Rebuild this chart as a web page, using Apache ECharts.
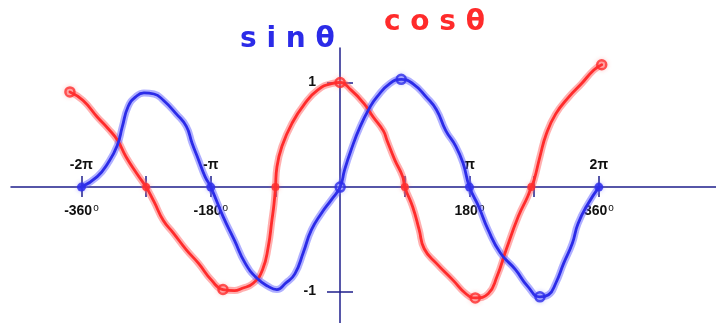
<!DOCTYPE html>
<html>
<head>
<meta charset="utf-8">
<script src="https://cdn.jsdelivr.net/npm/echarts@6/dist/echarts.min.js"></script>
<style>
  html, body { margin: 0; padding: 0; background: #fff; }
  #chart { width: 716px; height: 323px; }
</style>
</head>
<body>
<div id="chart"></div>
<script>
// hand-drawn sketch, values (degrees, value)
const sinPts = [
  [-360, 0], [-338, 0.10], [-323, 0.23], [-310, 0.40], [-303, 0.58], [-295, 0.77],
  [-285, 0.86], [-273, 0.90], [-259, 0.89], [-246, 0.83], [-228, 0.70], [-214, 0.58],
  [-206, 0.42], [-197, 0.26], [-188, 0.10], [-180, 0], [-163, -0.28], [-147, -0.51],
  [-132, -0.73], [-116, -0.87], [-100, -0.95], [-88, -0.98], [-76, -0.92], [-63, -0.83],
  [-51, -0.62], [-40, -0.41], [-26, -0.25], [-12, -0.12], [0, 0], [6, 0.16], [15, 0.35],
  [28, 0.58], [42, 0.77], [51, 0.86], [69, 0.99], [85, 1.03], [101, 0.99], [120, 0.86],
  [134, 0.74], [147, 0.54], [161, 0.39], [171, 0.23], [180, 0], [193, -0.19], [206, -0.41],
  [223, -0.63], [244, -0.79], [261, -0.95], [278, -1.05], [290, -1.03], [300, -0.92],
  [311, -0.73], [323, -0.54], [331, -0.35], [345, -0.16], [360, 0]
];
const cosPts = [
  [-376, 0.91], [-358, 0.83], [-338, 0.67], [-323, 0.56], [-310, 0.45], [-298, 0.29],
  [-283, 0.13], [-270, 0], [-259, -0.14], [-246, -0.32], [-232, -0.44], [-214, -0.60],
  [-197, -0.73], [-179, -0.89], [-163, -0.98], [-147, -0.99], [-137, -0.97], [-121, -0.92],
  [-108, -0.79], [-100, -0.57], [-95, -0.32], [-92, -0.16], [-90, 0], [-88, 0.19],
  [-81, 0.39], [-67, 0.61], [-49, 0.80], [-31, 0.93], [-12, 0.99], [0, 1.00], [15, 0.93],
  [33, 0.80], [46, 0.67], [60, 0.54], [65, 0.45], [76, 0.26], [87, 0.10], [90, 0],
  [101, -0.19], [110, -0.41], [117, -0.59], [134, -0.73], [157, -0.89], [175, -1.02],
  [188, -1.06], [206, -1.02], [218, -0.86], [231, -0.60], [248, -0.28], [261, -0.09],
  [266, 0], [270, 0.07], [278, 0.29], [287, 0.51], [300, 0.70], [318, 0.86], [336, 0.99],
  [353, 1.12], [364, 1.17]
];
// dots and little loops the pen left on the curves
const sinDots = [[-360, 0], [-180, 0], [180, 0], [360, 0]];
const sinRings = [[0, 0], [85, 1.03], [278, -1.05]];
const cosDots = [[-270, 0], [-90, 0], [90, 0], [266, 0]];
const cosRings = [[-376, 0.91], [0, 1.00], [-163, -0.98], [188, -1.06], [364, 1.17]];

const tickValues = [-360, -270, -180, -90, 90, 180, 270, 360];
const labelValues = [-360, -180, 180, 360];
const degLabels = ['-360', '-180', '180', '360'];
const piLabels = ['-2π', '-π', 'π', '2π'];
const yTicks = [-1, 1];
const yLabels = ['-1', '1'];

const axisColor = '#1f1f8c';
const blue = '#2b2be8', blueHalo = 'rgba(95,95,255,0.5)';
const red = '#ff2b2b', redHalo = 'rgba(255,95,95,0.5)';
const labelFont = { fontFamily: 'Liberation Sans', fontWeight: 'bold', fontSize: 14, color: '#111' };

// axes sit on the zero lines: x zero is 329px right of the grid edge, y zero 136px above the bottom
const xZeroOffset = -136;
const yZeroOffset = -329;

let myChart = echarts.init(document.getElementById('chart'));

function curve(data, color, width) {
  return {
    type: 'line',
    data: data,
    smooth: 0.5,
    showSymbol: false,
    silent: true,
    lineStyle: { color: color, width: width, cap: 'round', join: 'round' },
    z: width > 4 ? 2 : 3
  };
}

function marks(data, color, halo, size, ring) {
  return {
    type: 'scatter',
    data: data,
    symbolSize: size,
    silent: true,
    itemStyle: ring
      ? { color: 'transparent', borderColor: color, borderWidth: 2.5, shadowColor: halo, shadowBlur: 4 }
      : { color: color, shadowColor: halo, shadowBlur: 4 },
    z: 4
  };
}

let option = {
  animation: false,
  grid: { left: 11, right: 0, top: 48, bottom: 0, outerBoundsMode: 'none', containLabel: false },
  xAxis: [
    {
      type: 'value', min: -458, max: 523, position: 'bottom', offset: xZeroOffset,
      splitLine: { show: false },
      axisLine: { onZero: false, lineStyle: { color: axisColor, width: 1.5 } },
      axisTick: { customValues: tickValues, length: 10, lineStyle: { color: axisColor, width: 1.5 } },
      axisLabel: {
        customValues: labelValues, margin: 16,
        formatter: v => '{n|' + degLabels[labelValues.indexOf(v)] + '}{o|o}',
        rich: {
          n: labelFont,
          o: { fontFamily: 'Liberation Sans', fontSize: 10, color: '#111', padding: [0, 0, 7, 1] }
        }
      }
    },
    {
      type: 'value', min: -458, max: 523, position: 'bottom', offset: xZeroOffset,
      splitLine: { show: false },
      axisLine: { show: false, onZero: false },
      axisTick: { customValues: tickValues, inside: true, length: 11, lineStyle: { color: axisColor, width: 1.5 } },
      axisLabel: Object.assign({
        customValues: labelValues, inside: true, margin: 15,
        formatter: v => piLabels[labelValues.indexOf(v)]
      }, labelFont)
    }
  ],
  yAxis: [
    {
      type: 'value', min: -1.3, max: 1.33, position: 'left', offset: yZeroOffset,
      splitLine: { show: false },
      axisLine: { onZero: false, lineStyle: { color: axisColor, width: 1.5 } },
      axisTick: { customValues: yTicks, length: 13, lineStyle: { color: axisColor, width: 1.5 } },
      axisLabel: Object.assign({
        customValues: yTicks, margin: 24,
        formatter: v => yLabels[yTicks.indexOf(v)]
      }, labelFont)
    },
    {
      type: 'value', min: -1.3, max: 1.33, position: 'left', offset: yZeroOffset,
      splitLine: { show: false },
      axisLine: { show: false, onZero: false },
      axisTick: { customValues: yTicks, inside: true, length: 13, lineStyle: { color: axisColor, width: 1.5 } },
      axisLabel: { show: false }
    }
  ],
  graphic: [
    { type: 'text', left: 240, top: 26,
      style: { text: 's i n θ', fill: blue, font: 'bold 28px "DejaVu Sans"' } },
    { type: 'text', left: 384, top: 9,
      style: { text: 'c o s θ', fill: red, font: 'bold 28px "DejaVu Sans"' } }
  ],
  series: [
    curve(cosPts, redHalo, 7),
    curve(sinPts, blueHalo, 7),
    curve(cosPts, red, 2.8),
    curve(sinPts, blue, 2.8),
    marks(sinDots, blue, blueHalo, 9, false),
    marks(sinRings, blue, blueHalo, 9, true),
    marks(cosDots, red, redHalo, 8, false),
    marks(cosRings, red, redHalo, 9, true)
  ]
};
myChart.setOption(option);
</script>
</body>
</html>
